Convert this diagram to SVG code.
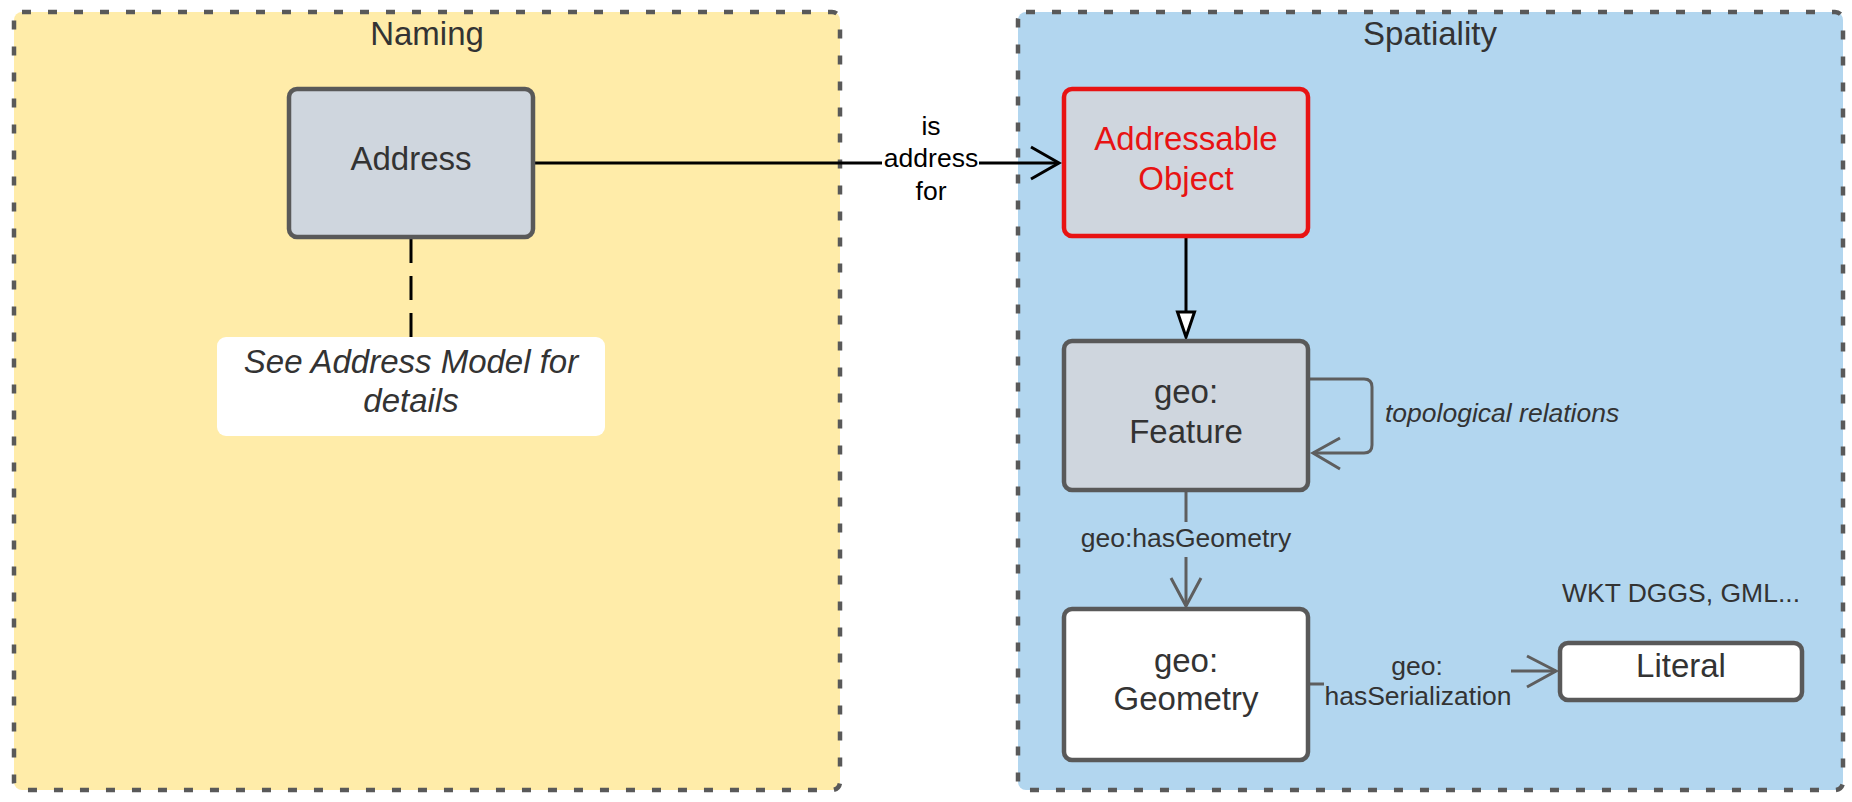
<svg xmlns="http://www.w3.org/2000/svg" width="1852" height="802" viewBox="0 0 1852 802">
<style>
.t{font-family:"Liberation Sans",Arial,sans-serif;fill:#333333;text-anchor:middle}
.n{font-size:33px}
.e{font-size:26.5px}
.i{font-style:italic}
.cont{stroke:#595959;stroke-width:4.5;stroke-dasharray:9 17}
.box{stroke:#595959;stroke-width:4.5}
.gc{fill:none;stroke:#5e5e5e;stroke-width:3}
.bc{fill:none;stroke:#000000;stroke-width:3}
</style>
<rect width="1852" height="802" fill="#ffffff"/>
<g id="naming">
<rect class="cont" x="14" y="12" width="826" height="778" rx="8" fill="#ffeca9"/>
<text class="t n" x="427" y="45">Naming</text>
</g>
<g id="spatiality">
<rect class="cont" x="1018" y="12" width="825" height="778" rx="8" fill="#b2d6ef"/>
<text class="t n" x="1430" y="45">Spatiality</text>
</g>
<g id="connectors">
<line class="bc" x1="535" y1="163" x2="882" y2="163"/>
<line class="bc" x1="979" y1="163" x2="1058" y2="163"/>
<polyline class="bc" points="1031,147 1059,163 1031,179"/>
<text class="t e" x="931" y="135" style="fill:#000">is</text>
<text class="t e" x="931" y="167" style="fill:#000">address</text>
<text class="t e" x="931" y="200" style="fill:#000">for</text>
<line class="bc" x1="411" y1="239" x2="411" y2="337" stroke-dasharray="24 13"/>
<line class="bc" x1="1186" y1="238" x2="1186" y2="312"/>
<polygon points="1177.5,312 1194.5,312 1186,337" fill="#ffffff" stroke="#000" stroke-width="3" stroke-linejoin="miter"/>
<path class="gc" d="M1310,379 H1364 Q1372,379 1372,387 V445 Q1372,453 1364,453 H1313"/>
<polyline class="gc" points="1340,438 1313,453 1340,469"/>
<text class="t e i" x="1385" y="422" style="text-anchor:start">topological relations</text>
<line class="gc" x1="1186" y1="492" x2="1186" y2="522"/>
<line class="gc" x1="1186" y1="557" x2="1186" y2="606"/>
<polyline class="gc" points="1171,578 1186,606 1201,578"/>
<text class="t e" x="1186" y="547">geo:hasGeometry</text>
<line class="gc" x1="1310" y1="684" x2="1324" y2="684"/>
<line class="gc" x1="1511" y1="671" x2="1556" y2="671"/>
<polyline class="gc" points="1527,656 1556,671 1527,687"/>
<text class="t e" x="1417" y="675">geo:</text>
<text class="t e" x="1418" y="705">hasSerialization</text>
</g>
<g id="address">
<rect class="box" x="289" y="89" width="244" height="148" rx="8" fill="#cfd6de"/>
<text class="t n" x="411" y="170">Address</text>
</g>
<g id="note">
<rect x="217" y="337" width="388" height="99" rx="9" fill="#ffffff"/>
<text class="t n i" x="411" y="373">See Address Model for</text>
<text class="t n i" x="411" y="412">details</text>
</g>
<g id="addressable-object">
<rect x="1064" y="89" width="244" height="147" rx="8" fill="#cfd6de" stroke="#e81313" stroke-width="4.5"/>
<text class="t n" x="1186" y="150" style="fill:#e81313">Addressable</text>
<text class="t n" x="1186" y="190" style="fill:#e81313">Object</text>
</g>
<g id="feature">
<rect class="box" x="1064" y="341" width="244" height="149" rx="8" fill="#cfd6de"/>
<text class="t n" x="1186" y="403">geo:</text>
<text class="t n" x="1186" y="443">Feature</text>
</g>
<g id="geometry">
<rect class="box" x="1064" y="609" width="244" height="151" rx="8" fill="#ffffff"/>
<text class="t n" x="1186" y="672">geo:</text>
<text class="t n" x="1186" y="710">Geometry</text>
</g>
<g id="literal">
<rect class="box" x="1560" y="643" width="242" height="57" rx="8" fill="#ffffff"/>
<text class="t n" x="1681" y="677">Literal</text>
</g>
<g id="serialization-note">
<text class="t e" x="1681" y="602">WKT DGGS, GML...</text>
</g>
</svg>
